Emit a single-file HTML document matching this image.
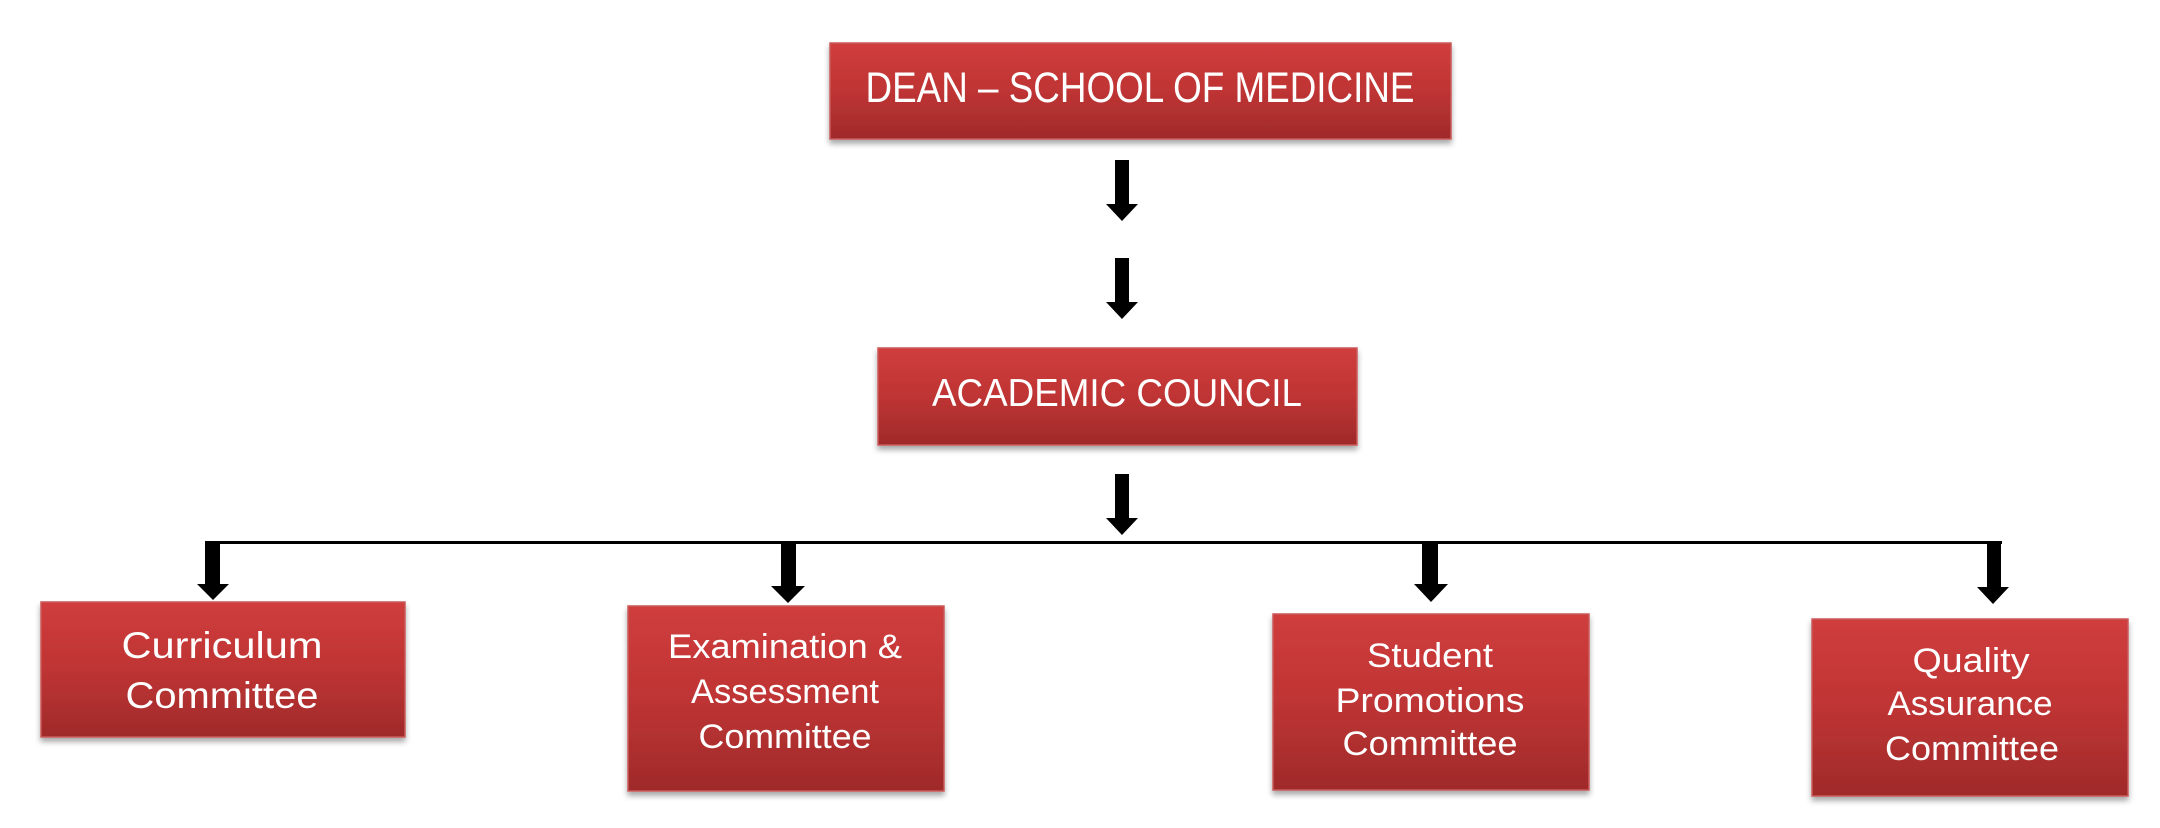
<!DOCTYPE html>
<html><head><meta charset="utf-8"><style>
html,body{margin:0;padding:0;background:#fff;}
svg{display:block;}
text{font-family:"Liberation Sans Narrow","Liberation Sans",sans-serif;fill:#fff;}
</style></head><body>
<svg width="2160" height="828" viewBox="0 0 2160 828" xmlns="http://www.w3.org/2000/svg">
<defs>
<linearGradient id="g" x1="0" y1="0" x2="0" y2="1">
<stop offset="0" stop-color="#d03d3d"/><stop offset="0.5" stop-color="#bf3434"/><stop offset="1" stop-color="#9f2a2a"/>
</linearGradient>
<filter id="s" x="-5%" y="-10%" width="110%" height="130%">
<feDropShadow dx="0" dy="4" stdDeviation="3" flood-color="#000" flood-opacity="0.35"/>
</filter>
<g id="arr"><rect x="-7" y="0" width="14" height="45"/><polygon points="-16,44 16,44 0,61"/></g>
</defs>
<g fill="url(#g)" stroke="#c95a5a" stroke-width="1.5" filter="url(#s)">
<rect x="830" y="43" width="621" height="96"/>
<rect x="878" y="348" width="479" height="97"/>
<rect x="41" y="602" width="364" height="135"/>
<rect x="628" y="606" width="316" height="185"/>
<rect x="1273" y="614" width="316" height="176"/>
<rect x="1812" y="619" width="316" height="177"/>
</g>
<g fill="#000">
<use href="#arr" x="1122" y="160"/>
<use href="#arr" x="1122" y="258"/>
<use href="#arr" x="1122" y="474"/>
<rect x="212" y="541" width="1790" height="3"/>
<rect x="205" y="541" width="15" height="45"/><polygon points="197,584 229,584 213,600"/>
<rect x="781" y="541" width="15" height="47"/><polygon points="771,586 805,586 788,603"/>
<rect x="1422" y="541" width="16" height="45"/><polygon points="1414,584 1448,584 1431,602"/>
<rect x="1987" y="541" width="14" height="48"/><polygon points="1977,587 2009,587 1993,604"/>
</g>
<g text-anchor="middle" lengthAdjust="spacingAndGlyphs">
<text x="1140" y="102" font-size="43" textLength="549" lengthAdjust="spacingAndGlyphs">DEAN – SCHOOL OF MEDICINE</text>
<text x="1117" y="406" font-size="39" textLength="370" lengthAdjust="spacingAndGlyphs">ACADEMIC COUNCIL</text>
<text x="222" y="658" font-size="37" textLength="201" lengthAdjust="spacingAndGlyphs">Curriculum</text>
<text x="222" y="708" font-size="37" textLength="193" lengthAdjust="spacingAndGlyphs">Committee</text>
<text x="785" y="658" font-size="34" textLength="234" lengthAdjust="spacingAndGlyphs">Examination &amp;</text>
<text x="785" y="703" font-size="34" textLength="188" lengthAdjust="spacingAndGlyphs">Assessment</text>
<text x="785" y="748" font-size="34" textLength="173" lengthAdjust="spacingAndGlyphs">Committee</text>
<text x="1430" y="667" font-size="34" textLength="126" lengthAdjust="spacingAndGlyphs">Student</text>
<text x="1430" y="712" font-size="34" textLength="189" lengthAdjust="spacingAndGlyphs">Promotions</text>
<text x="1430" y="755" font-size="34" textLength="175" lengthAdjust="spacingAndGlyphs">Committee</text>
<text x="1971" y="672" font-size="34" textLength="117" lengthAdjust="spacingAndGlyphs">Quality</text>
<text x="1970" y="715" font-size="34" textLength="165" lengthAdjust="spacingAndGlyphs">Assurance</text>
<text x="1972" y="760" font-size="34" textLength="174" lengthAdjust="spacingAndGlyphs">Committee</text>
</g>
</svg>
</body></html>
